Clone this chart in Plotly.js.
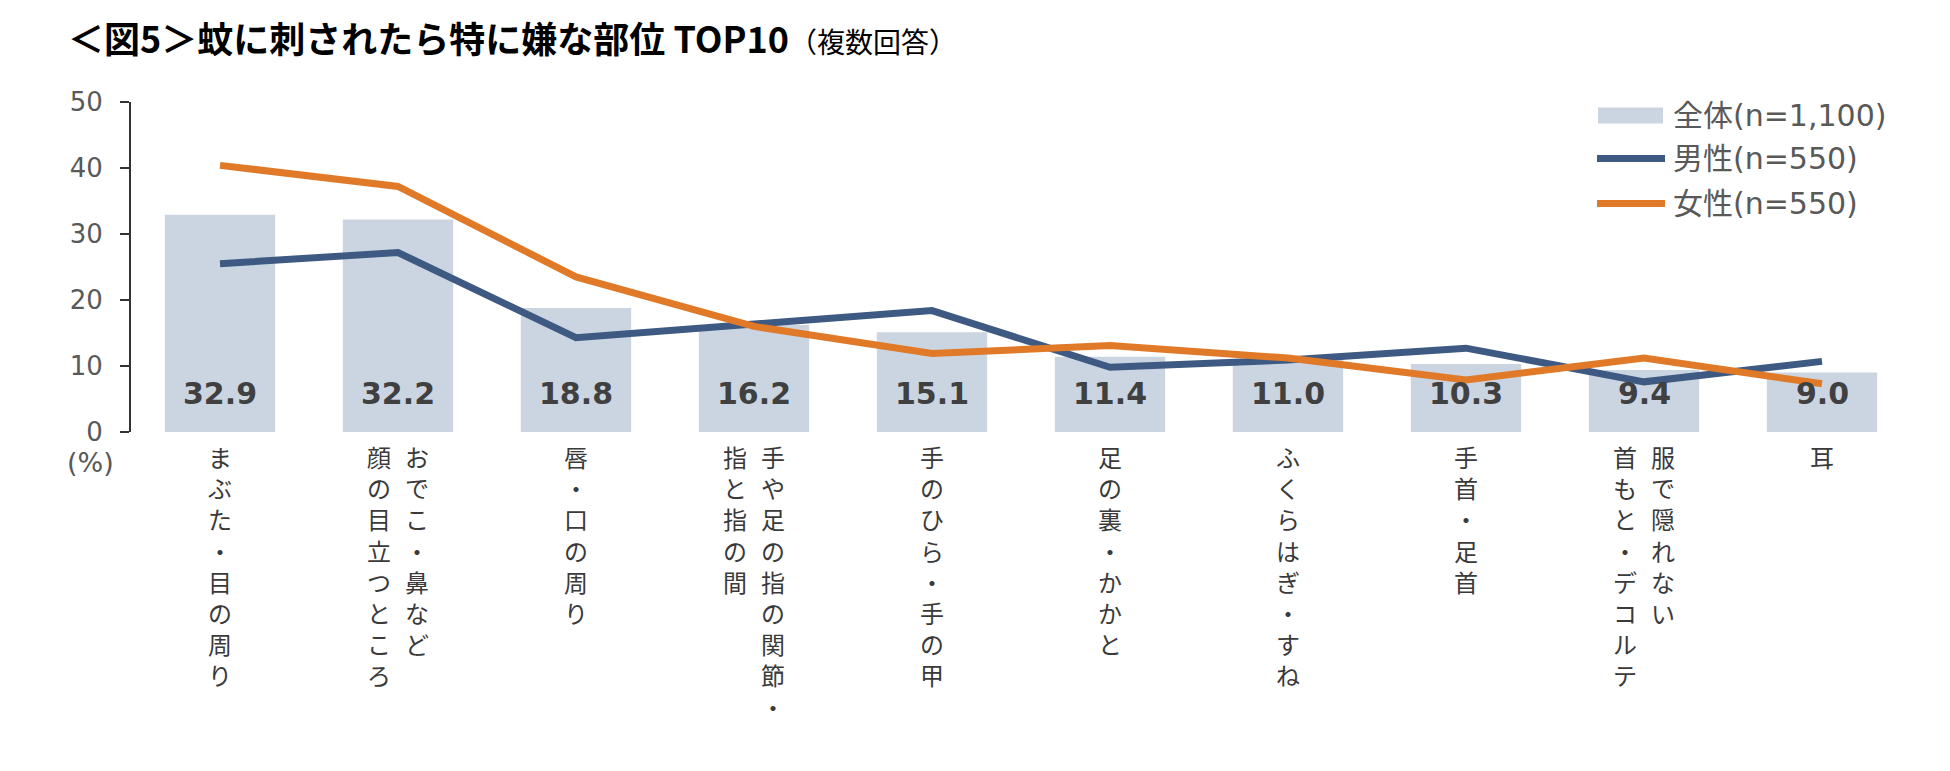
<!DOCTYPE html>
<html>
<head>
<meta charset="utf-8">
<script src="https://cdn.plot.ly/plotly-3.0.1.min.js"></script>
<style>
html,body{margin:0;padding:0;background:#fff;}
#chart{width:1950px;height:771px;}
</style>
</head>
<body>
<div id="chart"></div>
<script>
// ---- data ----
const categories = [
  "まぶた・目の周り",
  "おでこ・鼻など\n顔の目立つところ",
  "唇・口の周り",
  "手や足の指の関節・\n指と指の間",
  "手のひら・手の甲",
  "足の裏・かかと",
  "ふくらはぎ・すね",
  "手首・足首",
  "服で隠れない\n首もと・デコルテ",
  "耳"
];
const seriesNames = ["全体(n=1,100)", "男性(n=550)", "女性(n=550)"];
const totalValues  = [32.9, 32.2, 18.8, 16.2, 15.1, 11.4, 11.0, 10.3, 9.4, 9.0];
const maleValues   = [25.5, 27.2, 14.3, 16.4, 18.4,  9.8, 10.9, 12.7, 7.6, 10.7];
const femaleValues = [40.4, 37.2, 23.5, 16.0, 11.9, 13.1, 11.2,  7.9, 11.2, 7.3];
const yTickValues = [0, 10, 20, 30, 40, 50];
const titleMain = "＜図5＞蚊に刺されたら特に嫌な部位 TOP10";
const titleSub = "（複数回答）";
const unitLabel = "(%)";

// ---- styles ----
const colBar = "#cbd5e2";
const colMale = "#3e5a82";
const colFemale = "#e07a28";
const colText = "#595959";
const cjk = "Noto Sans CJK JP";
const latin = "DejaVu Sans, Noto Sans CJK JP";

const traces = [
  {type: "bar", x: categories, y: totalValues, name: seriesNames[0],
   marker: {color: colBar}, hoverinfo: "skip", showlegend: false},
  {type: "scatter", mode: "lines", x: categories, y: maleValues, name: seriesNames[1],
   line: {color: colMale, width: 7}, hoverinfo: "skip", showlegend: false},
  {type: "scatter", mode: "lines", x: categories, y: femaleValues, name: seriesNames[2],
   line: {color: colFemale, width: 7}, hoverinfo: "skip", showlegend: false}
];

const annotations = [];
// vertical category labels: one column per line, glyphs stacked, columns right-to-left
categories.forEach(function (c) {
  const cols = c.split("\n");
  const n = cols.length;
  cols.forEach(function (col, j) {
    annotations.push({
      x: c, y: 0, xref: "x", yref: "y", text: Array.from(col).join("<br>"),
      showarrow: false, align: "center",
      xanchor: "center", yanchor: "top",
      xshift: ((n - 1) / 2 - j) * 38, yshift: -5,
      font: {family: cjk, size: 24, color: "#3a3a3a"}
    });
  });
});
// value labels inside bars
categories.forEach(function (c, i) {
  annotations.push({
    x: c, y: 0, xref: "x", yref: "y", text: totalValues[i].toFixed(1), showarrow: false,
    xanchor: "center", yanchor: "middle", yshift: 38.5,
    font: {family: "DejaVu Sans", size: 30, color: "#404040", weight: "bold"}
  });
});
// unit label
annotations.push({
  x: 0, y: 0, xref: "paper", yref: "y", text: unitLabel, showarrow: false,
  xanchor: "center", yanchor: "middle", xshift: -41, yshift: -30,
  font: {family: latin, size: 27, color: colText}
});
// legend texts
const legendRows = [-13.5, -56.5, -101.5];
seriesNames.forEach(function (nm, k) {
  annotations.push({
    x: 1, y: 1, xref: "paper", yref: "paper", text: nm, showarrow: false,
    xanchor: "left", yanchor: "middle", xshift: -240, yshift: legendRows[k],
    font: {family: latin, size: 30, color: colText}
  });
});

const shapes = [
  {type: "rect", xref: "paper", yref: "paper", xsizemode: "pixel", ysizemode: "pixel",
   xanchor: 1, yanchor: 1, x0: -313, x1: -248, y0: -5.5, y1: -21.5,
   fillcolor: colBar, line: {width: 0}},
  {type: "line", xref: "paper", yref: "paper", xsizemode: "pixel", ysizemode: "pixel",
   xanchor: 1, yanchor: 1, x0: -314, x1: -246, y0: -56.5, y1: -56.5,
   line: {color: colMale, width: 7}},
  {type: "line", xref: "paper", yref: "paper", xsizemode: "pixel", ysizemode: "pixel",
   xanchor: 1, yanchor: 1, x0: -314, x1: -246, y0: -101.5, y1: -101.5,
   line: {color: colFemale, width: 7}}
];

const layout = {
  width: 1950, height: 771,
  paper_bgcolor: "#fff", plot_bgcolor: "#fff",
  margin: {l: 131, r: 39, t: 102, b: 339, pad: 0},
  title: {
    text: "<b>" + titleMain + "</b><span style='font-size:28px'>" + titleSub + "</span>",
    font: {family: cjk, size: 36, color: "#000"},
    x: 68 / 1950, xanchor: "left", xref: "container",
    y: 1 - 40 / 771, yanchor: "middle", yref: "container"
  },
  bargap: 0.38,
  showlegend: false,
  xaxis: {type: "category", showticklabels: false, showline: false, ticks: "",
          showgrid: false, zeroline: false, fixedrange: true},
  yaxis: {range: [0, 50], tickvals: yTickValues, ticktext: yTickValues.map(String),
          showline: true, linecolor: "#333", linewidth: 2,
          ticks: "outside", ticklen: 9, tickwidth: 2, tickcolor: "#333",
          ticklabelstandoff: 12,
          showgrid: false, zeroline: false,
          tickfont: {family: latin, size: 26, color: colText}, fixedrange: true},
  annotations: annotations,
  shapes: shapes
};

Plotly.newPlot("chart", traces, layout, {staticPlot: true, displayModeBar: false});
</script>
</body>
</html>
